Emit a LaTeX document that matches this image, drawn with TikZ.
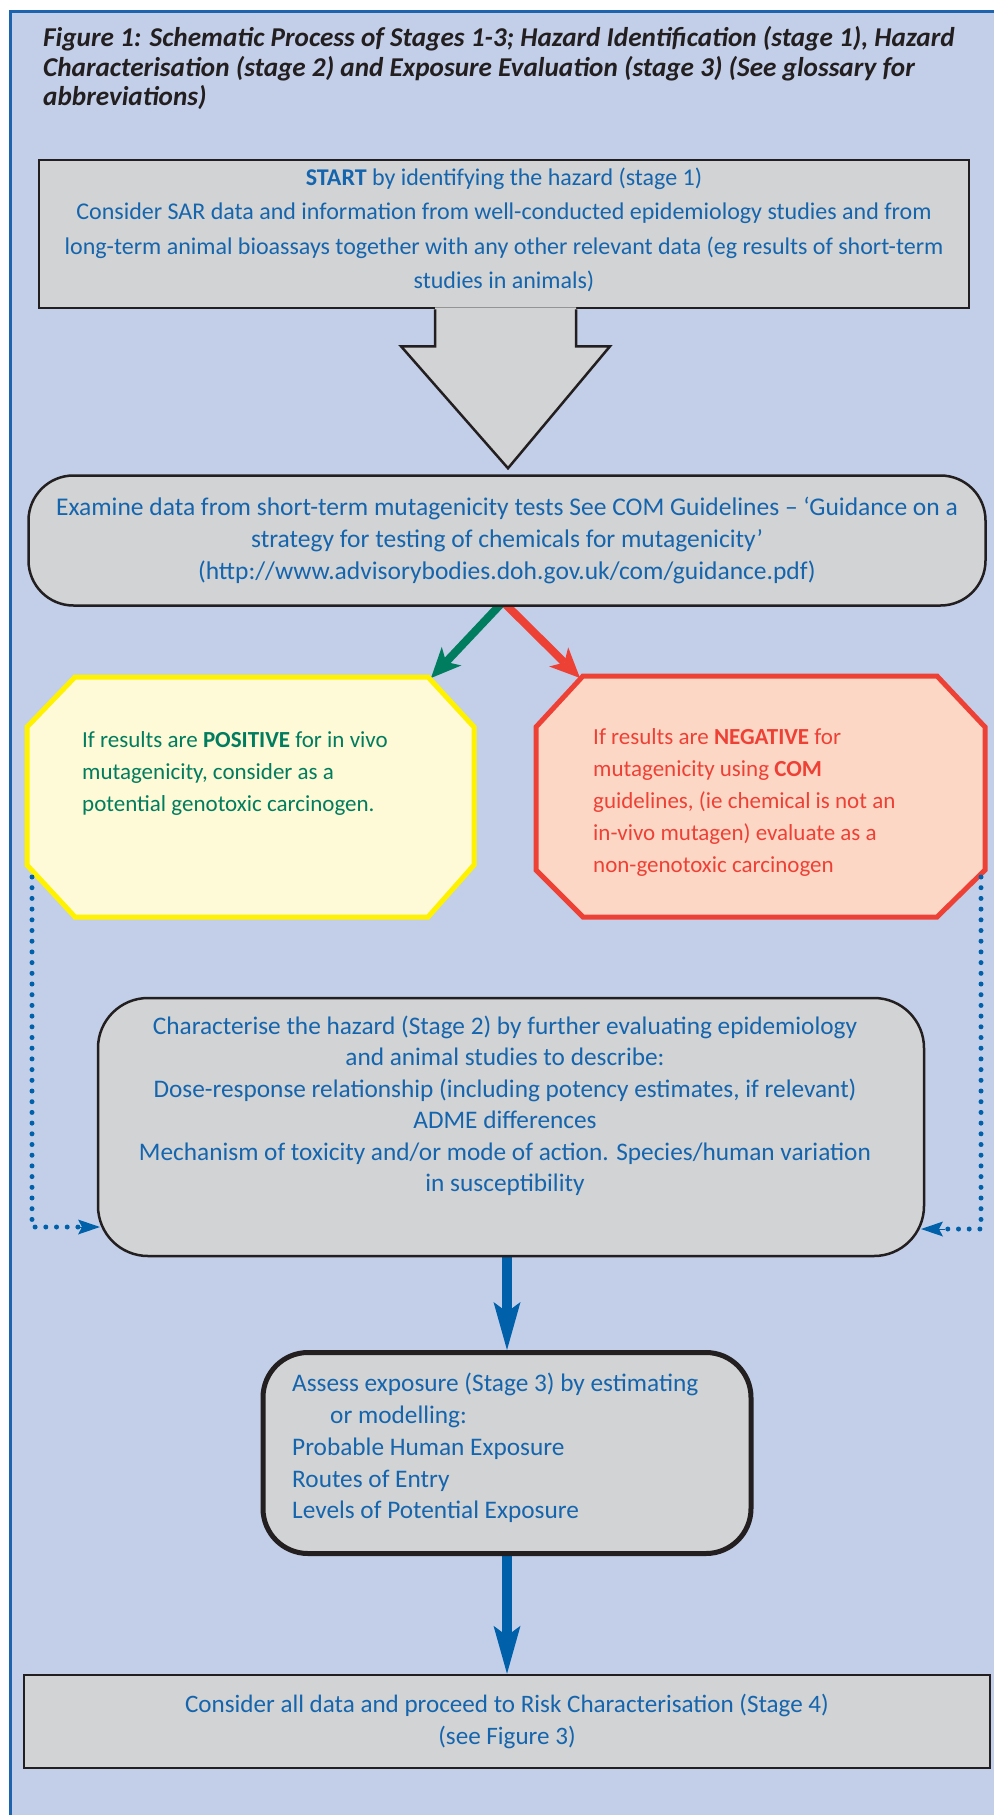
\documentclass[tikz,border=0pt]{standalone}
\usepackage{fontspec}
\setmainfont{Carlito}
\usetikzlibrary{arrows.meta,calc}
\definecolor{bg}{HTML}{C3CFE8}
\definecolor{frame}{HTML}{1E63AE}
\definecolor{boxgray}{HTML}{D1D3D4}
\definecolor{txtblue}{HTML}{1565AE}
\definecolor{ink}{HTML}{231F20}
\definecolor{yelline}{HTML}{FFF200}
\definecolor{yelfill}{HTML}{FEF9D6}
\definecolor{redline}{HTML}{EE4136}
\definecolor{redfill}{HTML}{FDD7C6}
\definecolor{grn}{HTML}{007D5E}
\definecolor{arrblue}{HTML}{0061AA}
\pgfdeclarelayer{bgl}
\pgfdeclarelayer{back}
\pgfsetlayers{bgl,back,main}
\begin{document}
\begin{tikzpicture}[x=1pt,y=-1pt,
  body/.style={font=\fontsize{23}{32}\selectfont, text=txtblue, inner sep=0pt},
  titletxt/.style={font=\fontsize{27.2}{29.5}\selectfont\bfseries\itshape, text=ink, inner sep=0pt, align=left},
  graybox/.style={draw=ink, fill=boxgray, line width=2.5pt, inner sep=0pt},
  octo/.style={line width=5pt, line join=miter},
  dotline/.style={draw=arrblue, line width=5pt, dash pattern=on 0pt off 10.7pt, line cap=round},
  dottip/.style={-{Stealth[length=22pt,width=15pt,inset=4pt,line width=0pt]}},
  fatarrow/.style={line width=8pt, -{Stealth[length=30pt,width=27pt,inset=8pt,line width=0pt]}},
  bluearrow/.style={draw=arrblue, line width=10pt, -{Stealth[length=48pt,width=27pt,inset=10pt,line width=0pt]}}
]
\useasboundingbox (0,0) rectangle (994,1815);
\begin{pgfonlayer}{bgl}
  \fill[bg] (10,11) rectangle (994,1815);
  \draw[frame, line width=3pt] (10,1815) -- (10,11.3) -- (994,11.3);
\end{pgfonlayer}

% title
\node[titletxt, anchor=north west] (title) at (43,26.5) {Figure 1: Schematic Process of Stages 1-3; Hazard Identification (stage 1), Hazard\\Characterisation (stage 2) and Exposure Evaluation (stage 3) (See glossary for\\abbreviations)};

% stage 1 box with block arrow
\node[graybox, minimum width=930pt, minimum height=148pt] (startbox) at (504,234) {};
\node[body, font=\fontsize{24}{34.4}\selectfont, align=center] (starttxt) at (504,230) {\textbf{START} by identifying the hazard (stage 1)\\Consider SAR data and information from well-conducted epidemiology studies and from\\long-term animal bioassays together with any other relevant data (eg results of short-term\\studies in animals)};
\fill[boxgray] ($(startbox.south)+(-69,-2)$) -- ($(startbox.south)+(-69,37)$) -- ($(startbox.south)+(-103,37)$) -- ($(startbox.south)+(4,159)$) -- ($(startbox.south)+(106,37)$) -- ($(startbox.south)+(72,37)$) -- ($(startbox.south)+(72,-2)$) -- cycle;
\draw[ink, line width=2.5pt, line join=miter] ($(startbox.south)+(-69,0)$) -- ($(startbox.south)+(-69,37)$) -- ($(startbox.south)+(-103,37)$) -- ($(startbox.south)+(4,159)$) -- ($(startbox.south)+(106,37)$) -- ($(startbox.south)+(72,37)$) -- ($(startbox.south)+(72,0)$);

% mutagenicity box
\node[graybox, rounded corners=45pt, minimum width=957pt, minimum height=130pt, body, font=\fontsize{25.5}{32.4}\selectfont, align=center] (exam) at (507,540.5) {Examine data from short-term mutagenicity tests See COM Guidelines -- ‘Guidance on a\\strategy for testing of chemicals for mutagenicity’\\(http://www.advisorybodies.doh.gov.uk/com/guidance.pdf)};

% octagons
\draw[octo, draw=yelline, fill=yelfill] (75,677) -- (428,677) -- (474,727) -- (474,865) -- (428,917) -- (75,917) -- (27,865) -- (27,727) -- cycle;
\draw[octo, draw=redline, fill=redfill] (583,676) -- (937,676) -- (985,727) -- (985,870) -- (937,917) -- (583,917) -- (536,870) -- (536,727) -- cycle;
\node[body, text=grn, align=left, anchor=north west] (pos) at (82,731) {If results are \textbf{POSITIVE} for in vivo\\mutagenicity, consider as a\\potential genotoxic carcinogen.};
\node[body, text=redline, align=left, anchor=north west] (neg) at (593,728.5) {If results are \textbf{NEGATIVE} for\\mutagenicity using \textbf{COM}\\guidelines, (ie chemical is not an\\in-vivo mutagen) evaluate as a\\non-genotoxic carcinogen};
\coordinate (ytip) at (431,678);
\coordinate (rtip) at (580,678);
\coordinate (ysrc) at (32,877);
\coordinate (rsrc) at (981,877);

\begin{pgfonlayer}{back}
  \draw[fatarrow, grn] ($(exam.south)+(-5,-4)$) -- (ytip);
  \draw[fatarrow, redline] ($(exam.south)+(-3,-4)$) -- (rtip);
\end{pgfonlayer}

% stage 2
\node[graybox, rounded corners=50pt, minimum width=826pt, minimum height=258pt] (s2) at (511,1127) {};
\node[body, font=\fontsize{25.3}{31.5}\selectfont, align=center] (s2txt) at (505,1106) {Characterise the hazard (Stage 2) by further evaluating epidemiology\\and animal studies to describe:\\Dose-response relationship (including potency estimates, if relevant)\\ADME differences\\Mechanism of toxicity and/or mode of action. Species/human variation\\in susceptibility};
\coordinate (s2l) at (100,1227);
\coordinate (s2r) at (921,1229);
\draw[dotline] (ysrc) |- ($(s2l)+(-18,0)$);
\draw[dotline] (rsrc) |- ($(s2r)+(18,0)$);
\draw[arrblue, dottip, line width=1pt] ($(s2l)+(-24,0)$) -- (s2l);
\draw[arrblue, dottip, line width=1pt] ($(s2r)+(24,0)$) -- (s2r);

% stage 3
\node[graybox, line width=5pt, rounded corners=45pt, minimum width=488pt, minimum height=201pt] (s3) at (507,1453) {};
\node[body, font=\fontsize{25.3}{31.8}\selectfont, align=left, anchor=north west] (s3txt) at (292,1373) {Assess exposure (Stage 3) by estimating\\\hspace*{38pt}or modelling:\\Probable Human Exposure\\Routes of Entry\\Levels of Potential Exposure};

% final
\node[graybox, minimum width=966pt, minimum height=93pt, body, font=\fontsize{25.1}{32.5}\selectfont, align=center] (fin) at (507,1721.5) {Consider all data and proceed to Risk Characterisation (Stage 4)\\(see Figure 3)};

\begin{pgfonlayer}{back}
  \draw[bluearrow] (s3.north |- s2.south) -- (s3.north);
  \draw[bluearrow] (s3.south) -- (fin.north);
\end{pgfonlayer}
\end{tikzpicture}
\end{document}
